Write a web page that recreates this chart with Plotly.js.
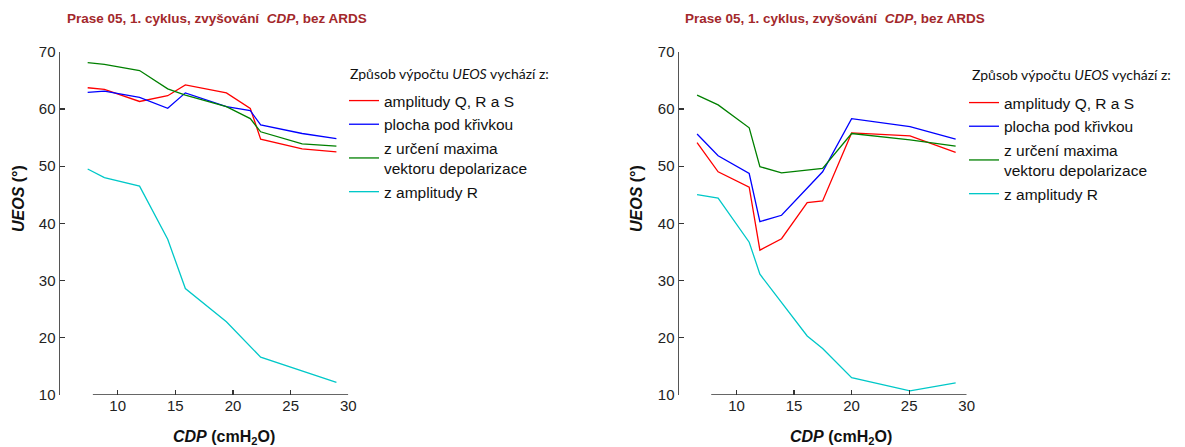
<!DOCTYPE html>
<html>
<head>
<meta charset="utf-8">
<script src="https://cdn.plot.ly/plotly-3.0.1.min.js"></script>
<style>html,body{margin:0;padding:0;background:#fff;}#chart{width:1185px;height:447px;}</style>
</head>
<body>
<div id="chart"></div>
<script>
// ---- data ----
const seriesNames = ['amplitudy Q, R a S', 'plocha pod křivkou', 'z určení maxima<br>vektoru depolarizace', 'z amplitudy R'];
const seriesColors = ['#ff0000', '#0000ff', '#008000', '#00c8c8'];

// left panel
const cdpLeft = [7.4, 8.85, 11.9, 14.34, 15.87, 19.43, 21.5, 22.4, 26.0, 28.97];
const qrsLeft = [63.7, 63.4, 61.3, 62.3, 64.2, 62.8, 60.1, 54.7, 53.0, 52.5];
const areaLeft = [62.9, 63.1, 62.0, 60.1, 62.8, 60.4, 59.7, 57.2, 55.7, 54.8];
const vectorLeft = [68.1, 67.8, 66.7, 63.5, 62.4, 60.4, 58.3, 56.0, 53.9, 53.5];
const ampRLeft = [49.5, 48.0, 46.5, 37.2, 28.6, 22.8, null, 16.6, null, 12.2];

// right panel
const cdpRight = [6.57, 8.4, 11.1, 12.03, 13.91, 16.14, 17.48, 20.0, 25.07, 29.04];
const qrsRight = [54.1, 49.0, 46.3, 35.3, 37.3, 43.6, 43.9, 55.8, 55.3, 52.4];
const areaRight = [55.6, 51.8, 48.7, 40.3, 41.4, null, 49.0, 58.3, 56.9, 54.7];
const vectorRight = [62.4, 60.7, 56.7, 49.9, 48.8, 49.3, 49.6, 55.7, 54.6, 53.5];
const ampRRight = [45.0, 44.4, 36.7, 31.1, null, 20.3, 18.1, 13.0, 10.7, 12.1];

const xTicks = [10, 15, 20, 25, 30];
const yTicks = [10, 20, 30, 40, 50, 60, 70];

const panelTitle = 'Prase 05, 1. cyklus, zvyšování&nbsp; <i>CDP</i>, bez ARDS';
const yTitle = '<i>UEOS</i> (°)';
const xTitle = '<i>CDP</i> (cmH<sub>2</sub>O)';
const legendTitle = 'Způsob výpočtu <i>UEOS</i> vychází z:';

// ---- build ----
const W = 1185, H = 447;
const px = v => v / W;
const py = v => 1 - v / H;

const traces = [];
function addPanel(xs, ys, xa, ya, legendId) {
  ys.forEach((y, i) => {
    traces.push({
      x: xs, y: y, type: 'scatter', mode: 'lines', name: seriesNames[i],
      line: {color: seriesColors[i], width: 1.3},
      connectgaps: true, xaxis: xa, yaxis: ya, legend: legendId,
      legendgroup: legendId + '_' + i,
      hoverinfo: 'skip'
    });
  });
}
addPanel(cdpLeft, [qrsLeft, areaLeft, vectorLeft, ampRLeft], 'x', 'y', 'legend');
addPanel(cdpRight, [qrsRight, areaRight, vectorRight, ampRRight], 'x2', 'y2', 'legend2');

const tickFont = {family: 'Liberation Sans, Arial, sans-serif', size: 15, color: '#222'};
function xAxis(domain, anchor) {
  return {domain: domain, range: [5, 30], anchor: anchor, showline: false, showgrid: false, zeroline: false,
    tickvals: xTicks, ticks: 'inside', ticklen: 5, tickwidth: 1.2, tickcolor: '#333', tickfont: tickFont, fixedrange: true};
}
function yAxis(domain, anchor) {
  return {domain: domain, range: [10, 70], anchor: anchor, showline: true, linecolor: '#555', linewidth: 1.5,
    showgrid: false, zeroline: false, tickvals: yTicks, ticks: 'inside', ticklen: 5, tickwidth: 1.2,
    tickcolor: '#333', tickfont: tickFont, fixedrange: true};
}

const yDom = [py(394.9), py(51.7)];
const titleFont = {family: 'Liberation Sans, Arial, sans-serif', size: 13.5, color: '#a3282b'};
const axTitleFont = {family: 'Liberation Sans, Arial, sans-serif', size: 16, color: '#111'};
const headerFont = {family: 'Lato, Open Sans, sans-serif', size: 14, color: '#111'};

function legendCfg(xpx, ypx) {
  return {x: px(xpx), y: py(ypx), xanchor: 'left', yanchor: 'top', bgcolor: 'rgba(0,0,0,0)',
    font: {family: 'Liberation Sans, Arial, sans-serif', size: 15.5, color: '#111'},
    itemwidth: 30, tracegroupgap: 0.5, itemclick: false, itemdoubleclick: false};
}

function ann(text, xpx, ypx, font, extra) {
  return Object.assign({text: text, xref: 'paper', yref: 'paper', x: px(xpx), y: py(ypx),
    xanchor: 'center', yanchor: 'middle', showarrow: false, font: font}, extra || {});
}

const layout = {
  width: W, height: H, autosize: false,
  margin: {l: 0, r: 0, t: 0, b: 0},
  paper_bgcolor: '#fff', plot_bgcolor: 'rgba(0,0,0,0)',
  showlegend: true,
  xaxis: xAxis([px(60), px(348.3)], 'y'),
  yaxis: yAxis(yDom, 'x'),
  xaxis2: xAxis([px(679), px(966.7)], 'y2'),
  yaxis2: yAxis(yDom, 'x2'),
  legend: legendCfg(344, 84),
  legend2: legendCfg(964, 86),
  shapes: [
    {type: 'line', xref: 'x', yref: 'y', x0: 7.85, x1: 30, y0: 10, y1: 10, line: {color: '#333', width: 1.5}},
    {type: 'line', xref: 'x2', yref: 'y2', x0: 7.8, x1: 30, y0: 10, y1: 10, line: {color: '#333', width: 1.5}}
  ],
  annotations: [
    ann('<b>' + panelTitle + '</b>', 217, 19, titleFont),
    ann('<b>' + panelTitle + '</b>', 835, 19, titleFont),
    ann('<b>' + yTitle + '</b>', 18, 199, axTitleFont, {textangle: -90}),
    ann('<b>' + yTitle + '</b>', 636, 199, axTitleFont, {textangle: -90}),
    ann('<b>' + xTitle + '</b>', 224, 437, axTitleFont),
    ann('<b>' + xTitle + '</b>', 841, 437, axTitleFont),
    ann(legendTitle, 348, 73, headerFont, {xanchor: 'left'}),
    ann(legendTitle, 970, 74, headerFont, {xanchor: 'left'})
  ]
};

Plotly.newPlot('chart', traces, layout, {displayModeBar: false, staticPlot: true});
</script>
</body>
</html>
